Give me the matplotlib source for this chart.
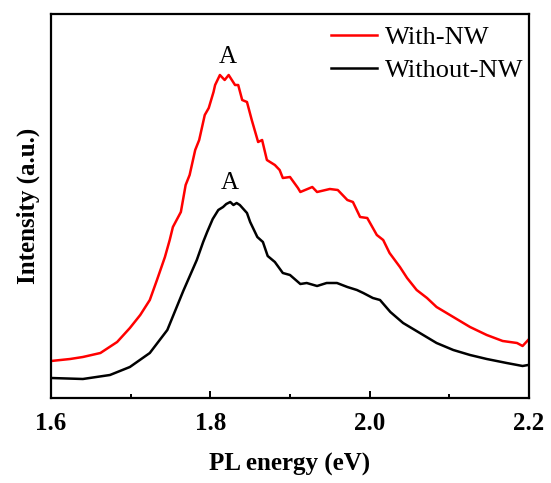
import numpy as np
import matplotlib.pyplot as plt

# PL spectra (energy in eV, intensity in arbitrary units)
e_nw = [1.600, 1.624, 1.640, 1.662, 1.683, 1.699, 1.712, 1.724, 1.733, 1.743, 1.749,
        1.753, 1.763, 1.769, 1.774, 1.781, 1.786, 1.793, 1.798, 1.804, 1.806, 1.812,
        1.818, 1.823, 1.831, 1.835, 1.840, 1.846, 1.852, 1.860, 1.865, 1.871, 1.881,
        1.887, 1.891, 1.900, 1.910, 1.913, 1.928, 1.934, 1.950, 1.960, 1.972, 1.979,
        1.988, 1.997, 2.009, 2.017, 2.025, 2.038, 2.047, 2.059, 2.072, 2.084, 2.105,
        2.126, 2.147, 2.167, 2.185, 2.192, 2.199]
i_nw = [37, 39, 41, 45, 56, 70, 83, 98, 118, 141, 158,
        171, 186, 213, 223, 248, 258, 283, 290, 306, 313, 323,
        318, 323, 313, 313, 298, 296, 278, 256, 258, 238, 233,
        228, 220, 221, 210, 206, 211, 206, 209, 208, 198, 196,
        181, 180, 163, 158, 145, 131, 120, 108, 100, 91, 81,
        71, 63, 57, 55, 52, 58]

e_wo = [1.600, 1.640, 1.674, 1.699, 1.724, 1.746, 1.766, 1.783, 1.791, 1.796, 1.803,
        1.810, 1.816, 1.820, 1.825, 1.829, 1.833, 1.837, 1.846, 1.850, 1.859, 1.866,
        1.872, 1.881, 1.891, 1.900, 1.913, 1.921, 1.934, 1.946, 1.959, 1.972, 1.984,
        1.992, 2.004, 2.013, 2.026, 2.042, 2.063, 2.084, 2.105, 2.126, 2.147, 2.172,
        2.192, 2.199]
i_wo = [20, 19, 23, 31, 45, 68, 107, 138, 156, 166, 179,
        188, 191, 194, 196, 193, 195, 193, 185, 176, 161, 156,
        142, 136, 125, 123, 114, 115, 112, 115, 115, 111, 108,
        105, 100, 98, 86, 75, 65, 55, 48, 43, 39, 35,
        32, 33]

plt.rcParams['font.family'] = ['Liberation Serif', 'DejaVu Serif']

fig = plt.figure(figsize=(5.51, 4.83), dpi=100)
ax = fig.add_axes([0.0926, 0.176, 0.8674, 0.795])

ax.plot(e_nw, i_nw, color='#ff0000', lw=1.8, label='With-NW')
ax.plot(e_wo, i_wo, color='black', lw=1.8, label='Without-NW')

ax.text(1.8215, 341, 'A', ha='center', va='center', fontsize=18)
ax.text(1.8245, 215, 'A', ha='center', va='center', fontsize=18)

ax.set_xlim(1.6, 2.2)
ax.set_ylim(0, 384)
ax.set_xticks([1.6, 1.8, 2.0, 2.2])
ax.set_xticks([1.7, 1.9, 2.1], minor=True)
ax.set_xticklabels(['1.6', '1.8', '2.0', '2.2'], fontsize=18, fontweight='bold')
ax.set_yticks([])
ax.tick_params(axis='x', which='major', direction='in', length=5, width=1.4, pad=10)
ax.tick_params(axis='x', which='minor', direction='in', length=3, width=1.4)
for s in ax.spines.values():
    s.set_linewidth(1.6)

ax.set_xlabel('PL energy (eV)', fontsize=18, fontweight='bold', labelpad=13)
ax.set_ylabel('Intensity (a.u.)', fontsize=18, fontweight='bold', labelpad=8)

ax.legend(loc='upper right', frameon=False, fontsize=19, handlelength=1.74,
          handletextpad=0.3, borderaxespad=0, borderpad=0.44, labelspacing=0.37,
          bbox_to_anchor=(1.0125, 1.0))

fig.savefig('out.png', dpi=100)
